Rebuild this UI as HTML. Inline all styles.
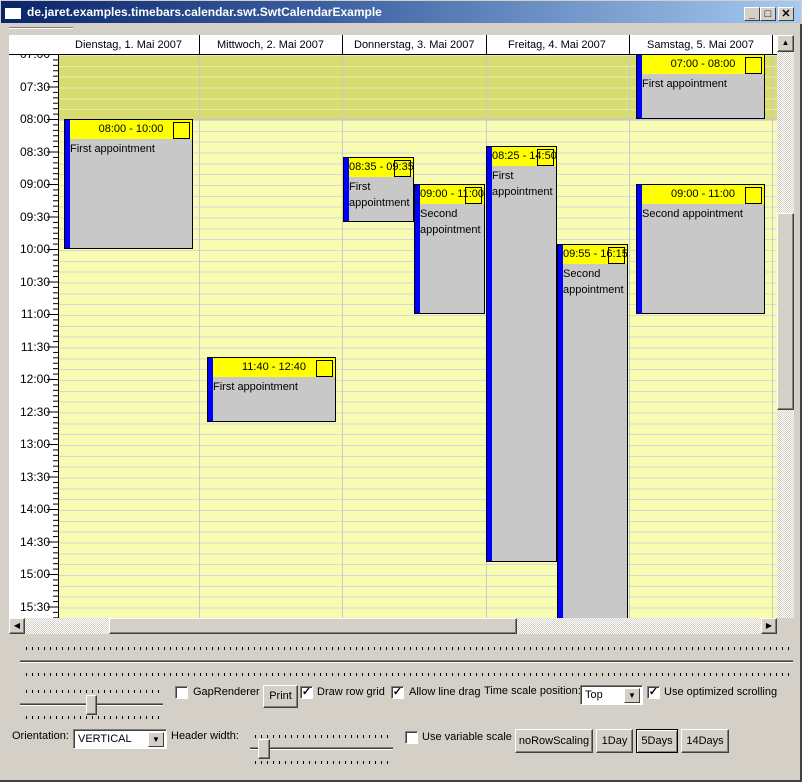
<!DOCTYPE html>
<html><head><meta charset="utf-8">
<style>
*{box-sizing:border-box;margin:0;padding:0}
html,body{width:802px;height:782px;overflow:hidden}
body{background:#d4d0c8;font-family:"Liberation Sans",sans-serif;font-size:11px;color:#000;position:relative}
.a{position:absolute}
.title{left:0;top:0;width:802px;height:24px;background:linear-gradient(90deg,#0a246a 0%,#3a5fa0 40%,#a6caf0 100%);border:1px solid #d4d0c8}
.title span{position:absolute;left:26px;top:4px;color:#fff;font-weight:bold;font-size:12px}
.tb{top:6px;width:16px;height:14px;background:#d4d0c8;border:1px solid;border-color:#fff #404040 #404040 #fff;font-size:11px;line-height:12px;text-align:center;font-weight:bold}
.ev{position:absolute;background:#c8c8c8;border:1px solid #000;overflow:hidden}
.ev .bar{position:absolute;left:0;top:0;bottom:0;width:5px;background:#0000ff}
.ev .hd{position:absolute;left:5px;right:0;top:0;height:19px;background:#ffff00;text-align:center;line-height:19px;white-space:nowrap}
.ev .bx{position:absolute;right:2px;top:2px;width:17px;height:17px;border:1px solid #000}
.ev .tx{position:absolute;left:5px;top:21px;line-height:16px;white-space:nowrap}
.btn{position:absolute;background:#d4d0c8;border:1px solid;border-color:#fff #404040 #404040 #fff;box-shadow:inset -1px -1px 0 #808080;text-align:center}
.cb{position:absolute;width:13px;height:13px;background:#fff;border:1px solid;border-color:#808080 #fff #fff #808080;box-shadow:inset 1px 1px 0 #404040;font-size:11px;line-height:11px;text-align:center;font-weight:bold}
.lbl{position:absolute;white-space:nowrap}
.ticks{position:absolute;height:3px;background:repeating-linear-gradient(90deg,#000 0 1px,transparent 1px 6px)}
.combo{position:absolute;background:#fff;border:1px solid;border-color:#808080 #fff #fff #808080;box-shadow:inset 1px 1px 0 #404040;padding:3px 4px}
.combo i{position:absolute;right:2px;top:2px;width:16px;height:15px;background:#d4d0c8;border:1px solid;border-color:#fff #404040 #404040 #fff;font-style:normal;font-size:8px;line-height:13px;text-align:center}
</style></head><body>
<div class="a title"><div class="a" style="left:4px;top:4px;width:16px;height:14px;background:#fff;border-top:3px solid #0a246a"></div><span>de.jaret.examples.timebars.calendar.swt.SwtCalendarExample</span>
<div class="a tb" style="left:743px">_</div><div class="a tb" style="left:759px">□</div><div class="a tb" style="left:777px">✕</div></div>
<div class="a" style="left:9px;top:27px;width:64px;height:2px;border-top:1px solid #808080;border-bottom:1px solid #fff"></div>

<!-- header -->
<div class="a" style="left:9px;top:35px;width:768px;height:20px;background:#fff;border-bottom:1px solid #000"></div>
<div class="lbl" style="left:75px;top:39px">Dienstag, 1. Mai 2007</div>
<div class="lbl" style="left:217px;top:39px">Mittwoch, 2. Mai 2007</div>
<div class="lbl" style="left:354px;top:39px">Donnerstag, 3. Mai 2007</div>
<div class="lbl" style="left:508px;top:39px">Freitag, 4. Mai 2007</div>
<div class="lbl" style="left:647px;top:39px">Samstag, 5. Mai 2007</div>
<div class="a" style="left:199px;top:35px;width:1px;height:20px;background:#000"></div>
<div class="a" style="left:342px;top:35px;width:1px;height:20px;background:#000"></div>
<div class="a" style="left:486px;top:35px;width:1px;height:20px;background:#000"></div>
<div class="a" style="left:629px;top:35px;width:1px;height:20px;background:#000"></div>
<div class="a" style="left:772px;top:35px;width:1px;height:20px;background:#000"></div>

<!-- body -->
<div class="a" style="left:9px;top:55px;width:50px;height:563px;background:#fff;overflow:hidden">
<svg width="50" height="563" style="position:absolute;left:0;top:0">
<defs><pattern id="tk" x="0" y="-1" width="50" height="5.41667" patternUnits="userSpaceOnUse"><rect x="44" y="0" width="6" height="1" fill="#000"/></pattern>
<pattern id="tk2" x="0" y="-1" width="50" height="32.5" patternUnits="userSpaceOnUse"><rect x="38" y="0" width="12" height="1" fill="#000"/></pattern></defs>
<rect width="50" height="563" fill="url(#tk)"/><rect width="50" height="563" fill="url(#tk2)"/><rect x="49" width="1" height="563" fill="#000"/>
</svg>
<div style="position:absolute;right:9px;top:-17px;line-height:32.5px;text-align:right;font-size:12px">07:00<br>07:30<br>08:00<br>08:30<br>09:00<br>09:30<br>10:00<br>10:30<br>11:00<br>11:30<br>12:00<br>12:30<br>13:00<br>13:30<br>14:00<br>14:30<br>15:00<br>15:30</div>
</div>
<div class="a" style="left:59px;top:55px;width:718px;height:563px;background:#f8fcb0;background-image:repeating-linear-gradient(180deg,#d8d8d8 0 1px,transparent 1px 10.8333px)"></div>
<div class="a" style="left:59px;top:55px;width:718px;height:64px;background:#d8dc70;background-image:repeating-linear-gradient(180deg,#ececa8 0 1px,transparent 1px 10.8333px)"></div>
<div class="a" style="left:59px;top:119px;width:718px;height:1px;background:#c8c8c8"></div>
<div class="a" style="left:199px;top:55px;width:1px;height:563px;background:#c8c8d0"></div>
<div class="a" style="left:342px;top:55px;width:1px;height:563px;background:#c8c8d0"></div>
<div class="a" style="left:486px;top:55px;width:1px;height:563px;background:#c8c8d0"></div>
<div class="a" style="left:629px;top:55px;width:1px;height:563px;background:#c8c8d0"></div>
<div class="a" style="left:772px;top:55px;width:1px;height:563px;background:#c8c8d0"></div>

<!-- events -->
<div class="ev" style="left:64px;top:119px;width:129px;height:130px"><div class="bar"></div><div class="hd">08:00 - 10:00</div><div class="bx"></div><div class="tx">First appointment</div></div>
<div class="ev" style="left:207px;top:357px;width:129px;height:65px"><div class="bar"></div><div class="hd">11:40 - 12:40</div><div class="bx"></div><div class="tx">First appointment</div></div>
<div class="ev" style="left:343px;top:157px;width:71px;height:65px"><div class="bar"></div><div class="hd" style="text-align:left">08:35 - 09:35</div><div class="bx"></div><div class="tx">First<br>appointment</div></div>
<div class="ev" style="left:414px;top:184px;width:71px;height:130px"><div class="bar"></div><div class="hd" style="text-align:left">09:00 - 11:00</div><div class="bx"></div><div class="tx">Second<br>appointment</div></div>
<div class="ev" style="left:486px;top:146px;width:71px;height:416px"><div class="bar"></div><div class="hd" style="text-align:left">08:25 - 14:50</div><div class="bx"></div><div class="tx">First<br>appointment</div></div>
<div class="ev" style="left:557px;top:244px;width:71px;height:374px;border-bottom:none"><div class="bar"></div><div class="hd" style="text-align:left">09:55 - 16:15</div><div class="bx"></div><div class="tx">Second<br>appointment</div></div>
<div class="ev" style="left:636px;top:54px;width:129px;height:65px"><div class="bar"></div><div class="hd">07:00 - 08:00</div><div class="bx"></div><div class="tx">First appointment</div></div>
<div class="ev" style="left:636px;top:184px;width:129px;height:130px"><div class="bar"></div><div class="hd">09:00 - 11:00</div><div class="bx"></div><div class="tx">Second appointment</div></div>

<!-- vertical scrollbar -->
<div class="a" style="left:777px;top:35px;width:17px;height:583px;background:repeating-conic-gradient(#fff 0 25%,#d4d0c8 0 50%) 0 0/2px 2px"></div>
<div class="btn" style="left:777px;top:35px;width:17px;height:17px;font-size:8px;line-height:14px">▲</div>
<div class="btn" style="left:777px;top:213px;width:17px;height:197px"></div>
<!-- horizontal scrollbar -->
<div class="a" style="left:9px;top:618px;width:768px;height:16px;background:repeating-conic-gradient(#fff 0 25%,#d4d0c8 0 50%) 0 0/2px 2px"></div>
<div class="btn" style="left:9px;top:618px;width:16px;height:16px;font-size:8px;line-height:14px">◀</div>
<div class="btn" style="left:109px;top:618px;width:408px;height:16px"></div>
<div class="btn" style="left:761px;top:618px;width:16px;height:16px;font-size:8px;line-height:14px">▶</div>

<!-- wide slider -->
<div class="ticks" style="left:26px;top:647px;width:767px"></div>
<div class="a" style="left:20px;top:660px;width:773px;height:3px;border-top:1px solid #808080;border-bottom:1px solid #fff;background:#404040;background-clip:content-box"></div>
<div class="ticks" style="left:26px;top:673px;width:767px"></div>

<!-- left slider -->
<div class="ticks" style="left:26px;top:690px;width:134px"></div>
<div class="a" style="left:20px;top:703px;width:143px;height:3px;border-top:1px solid #808080;border-bottom:1px solid #fff;background:#404040;background-clip:content-box"></div>
<div class="btn" style="left:86px;top:695px;width:11px;height:20px"></div>
<div class="ticks" style="left:26px;top:716px;width:134px"></div>

<div class="cb" style="left:175px;top:686px"></div><div class="lbl" style="left:193px;top:686px">GapRenderer</div>
<div class="btn" style="left:263px;top:685px;width:35px;height:23px;line-height:21px">Print</div>
<div class="cb" style="left:300px;top:686px">✓</div><div class="lbl" style="left:317px;top:686px">Draw row grid</div>
<div class="cb" style="left:391px;top:686px">✓</div><div class="lbl" style="left:409px;top:686px">Allow line drag</div>
<div class="lbl" style="left:484px;top:685px">Time scale position:</div>
<div class="combo" style="left:580px;top:685px;width:63px;height:20px">Top<i>▼</i></div>
<div class="cb" style="left:647px;top:686px">✓</div><div class="lbl" style="left:664px;top:686px">Use optimized scrolling</div>

<div class="lbl" style="left:12px;top:730px">Orientation:</div>
<div class="combo" style="left:73px;top:729px;width:94px;height:20px">VERTICAL<i>▼</i></div>
<div class="lbl" style="left:171px;top:730px">Header width:</div>
<div class="ticks" style="left:255px;top:735px;width:135px"></div>
<div class="a" style="left:250px;top:747px;width:143px;height:3px;border-top:1px solid #808080;border-bottom:1px solid #fff;background:#404040;background-clip:content-box"></div>
<div class="btn" style="left:258px;top:739px;width:12px;height:20px"></div>
<div class="ticks" style="left:255px;top:761px;width:135px"></div>

<div class="cb" style="left:405px;top:731px"></div><div class="lbl" style="left:422px;top:731px">Use variable scale</div>
<div class="btn" style="left:515px;top:729px;width:78px;height:24px;line-height:22px">noRowScaling</div>
<div class="btn" style="left:596px;top:729px;width:37px;height:24px;line-height:22px">1Day</div>
<div class="btn" style="left:636px;top:729px;width:42px;height:24px;line-height:22px;border:1px solid #000;box-shadow:inset 1px 1px 0 #fff,inset -1px -1px 0 #808080">5Days</div>
<div class="btn" style="left:681px;top:729px;width:48px;height:24px;line-height:22px">14Days</div>
<div class="a" style="left:0;top:780px;width:802px;height:2px;background:#404040"></div>
<div class="a" style="left:800px;top:24px;width:2px;height:756px;background:#404040"></div>
</body></html>
